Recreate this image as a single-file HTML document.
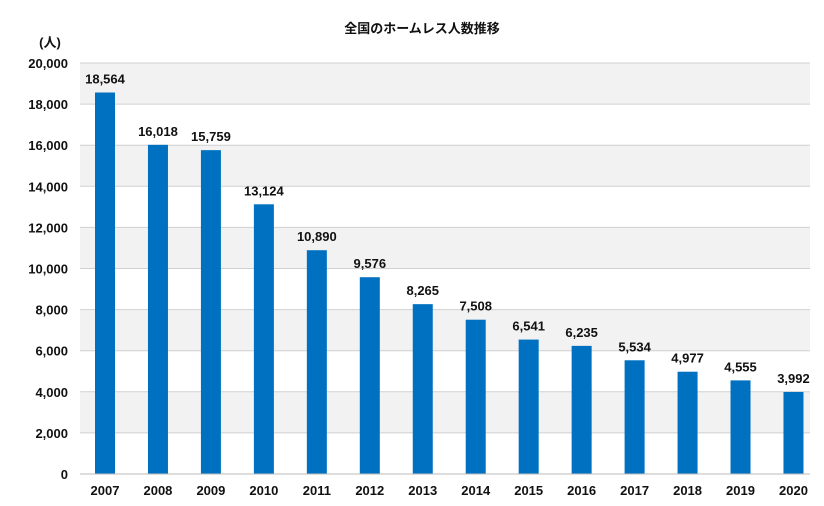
<!DOCTYPE html>
<html><head><meta charset="utf-8"><style>
body{margin:0;background:#fff}
text{font-family:"Liberation Sans","Noto Sans CJK JP",sans-serif;font-weight:bold;fill:#111}
</style></head><body>
<svg id="c" width="824" height="501" xmlns="http://www.w3.org/2000/svg">
<text x="422" y="33" font-size="13" text-anchor="middle">全国のホームレス人数推移</text>
<text x="50" y="47" font-size="13" text-anchor="middle">(人)</text>
</svg>
<script>
(function(){
const s=document.getElementById('c');const ns='http://www.w3.org/2000/svg';
function el(t,a,txt){const e=document.createElementNS(ns,t);for(const k in a)e.setAttribute(k,a[k]);if(txt!==undefined)e.textContent=txt;s.appendChild(e);return e;}
const yTop=63,yBot=474,L=80,R=810,h=(yBot-yTop)/20000;
function fmt(n){return String(n).replace(/\B(?=(\d{3})+(?!\d))/g,',');}
for(let i=0;i<10;i++){const y0=yBot-(i+1)*2000*h;if(i%2==1)el('rect',{x:L,y:y0,width:R-L,height:2000*h,fill:'#f2f2f2'});}
for(let i=0;i<=10;i++){const y=yBot-i*2000*h;el('line',{x1:L,x2:R,y1:y,y2:y,stroke:'#d0d0d0','stroke-width':1});
el('text',{x:68,y:y+5,'font-size':13,'text-anchor':'end'},fmt(i*2000));}
const v=[18564,16018,15759,13124,10890,9576,8265,7508,6541,6235,5534,4977,4555,3992];
v.forEach((d,i)=>{const cx=105+i*52.96;const y=yBot-d*h;
el('rect',{x:cx-10,y:y,width:20,height:yBot-y,fill:'#0070c0'});
el('text',{x:cx,y:y-9,'font-size':13,'text-anchor':'middle'},fmt(d));
el('text',{x:cx,y:495,'font-size':13,'text-anchor':'middle'},String(2007+i));});
el('line',{x1:L,x2:R,y1:yBot,y2:yBot,stroke:'#bbb'});
})();
</script>
</body></html>
